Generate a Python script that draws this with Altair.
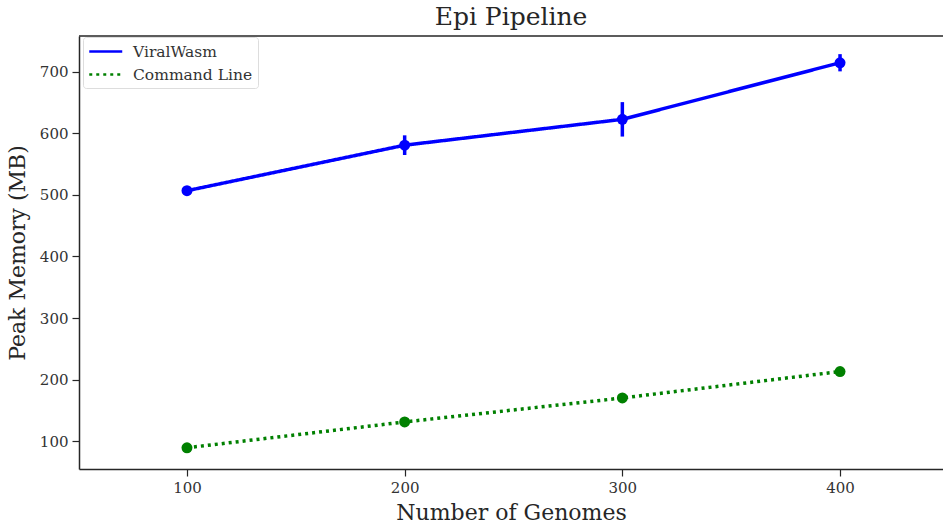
import altair as alt
import pandas as pd

genomes = [100, 200, 300, 400]
viral_mean = [507, 581, 623, 715]
viral_err = [2, 16, 28, 14]
cmd_mean = [89, 131, 170, 213]
cmd_err = [1, 1, 1, 1]
series = ["ViralWasm", "Command Line"]
colors = ["#0000ff", "#008000"]
x_ticks = [100, 200, 300, 400]
y_ticks = [100, 200, 300, 400, 500, 600, 700]

rows = []
for g, m, e in zip(genomes, viral_mean, viral_err):
    rows.append({"g": g, "mem": m, "lo": m - e, "hi": m + e, "s": series[0]})
for g, m, e in zip(genomes, cmd_mean, cmd_err):
    rows.append({"g": g, "mem": m, "lo": m - e, "hi": m + e, "s": series[1]})
df = pd.DataFrame(rows)

FONT = "DejaVu Serif"
W, H = 864, 433
xs = alt.Scale(domain=[50.4, 447.3], nice=False, zero=False)
ys = alt.Scale(domain=[54.5, 758.5], nice=False, zero=False)
cscale = alt.Scale(domain=series, range=colors)

color = alt.Color(
    "s:N",
    scale=cscale,
    legend=alt.Legend(
        title=None,
        orient="none",
        legendX=4,
        legendY=1,
        symbolType="M-1,0H3",
        symbolSize=272,
        symbolStrokeWidth=2.5,
        labelFont=FONT,
        labelFontSize=15.5,
        labelColor="#333333",
        labelOffset=26,
        fillColor="white",
        strokeColor="#dddddd",
        cornerRadius=3,
        padding=5,
        rowPadding=5,
        symbolOffset=0,
    ),
)
dash = alt.StrokeDash(
    "s:N",
    scale=alt.Scale(domain=series, range=[[1, 0], [3, 4]]),
    legend=alt.Legend(title=None),
)

base = alt.Chart(df)

x_enc = alt.X(
    "g:Q",
    scale=xs,
    title="Number of Genomes",
    axis=alt.Axis(values=x_ticks, grid=False, format="d"),
)
y_enc = alt.Y(
    "mem:Q",
    scale=ys,
    title="Peak Memory (MB)",
    axis=alt.Axis(values=y_ticks, grid=False, format="d"),
)

lines = base.mark_line(strokeWidth=3.5).encode(
    x=x_enc, y=y_enc, color=color, strokeDash=dash, detail="s:N"
)
points = base.mark_point(filled=True, size=120, opacity=1).encode(
    x="g:Q", y="mem:Q", color=alt.Color("s:N", scale=cscale, legend=None),
)
errs = base.mark_rule(strokeWidth=3.5).encode(
    x="g:Q", y="lo:Q", y2="hi:Q", color=alt.Color("s:N", scale=cscale, legend=None),
)
top_spine = alt.Chart(pd.DataFrame({"k": [0]})).mark_rule(
    color="#262626", strokeWidth=1.5
).encode(x=alt.value(0), x2=alt.value(W), y=alt.value(0))

chart = (
    alt.layer(lines, errs, points, top_spine)
    .properties(
        width=W,
        height=H,
        title=alt.Title("Epi Pipeline", font=FONT, fontSize=25, fontWeight="normal",
                        color="#262626", offset=5),
        autosize=alt.AutoSizeParams(type="none"),
        padding={"left": 79, "top": 36, "right": 0, "bottom": 55},
        background="white",
    )
    .configure_view(stroke=None)
    .configure_axis(
        labelFont=FONT,
        labelFontSize=15,
        labelColor="#333333",
        titleFont=FONT,
        titleFontSize=22,
        titleFontWeight="normal",
        titleColor="#262626",
        domainColor="#262626",
        domainWidth=1.5,
        tickColor="#262626",
        tickWidth=1.2,
        tickSize=7,
        labelPadding=4,
    )
    .configure_axisY(titlePadding=10)
    .configure_axisX(titlePadding=7)
)

chart.save("out.html", embed_options={"renderer": "svg", "actions": False})
